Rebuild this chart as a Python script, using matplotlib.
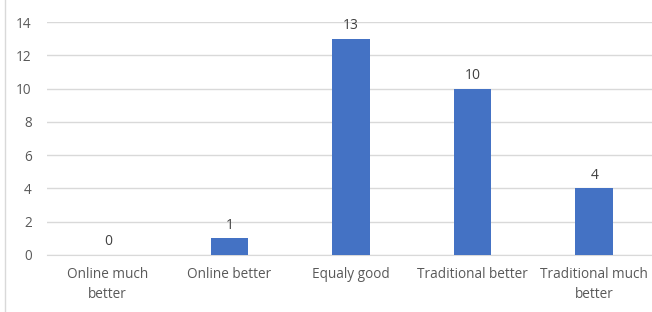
import matplotlib
matplotlib.use("Agg")
import matplotlib.pyplot as plt
from matplotlib.lines import Line2D

categories = ["Online much\nbetter", "Online better", "Equaly good", "Traditional better", "Traditional much\nbetter"]
values = [0, 1, 13, 10, 4]
yticks = [0, 2, 4, 6, 8, 10, 12, 14]

plt.rcParams['font.family'] = ['Open Sans', 'DejaVu Sans']

fig = plt.figure(figsize=(6.52, 3.12), dpi=100)
ax = fig.add_axes([47/652, 1 - 255/312, (655 - 47)/652, (255 - 22)/312])

x = list(range(len(categories)))
bars = ax.bar(x, values, width=0.31, color="#4472C4", zorder=3)
for xi, v in zip(x, values):
    ax.text(xi, v + 0.35, str(v), ha="center", va="bottom", fontsize=10, color="#404040")

ax.set_xlim(-0.5, len(categories) - 0.5)
ax.set_ylim(0, 14)
ax.set_yticks(yticks)
ax.set_xticks(x)
ax.set_xticklabels(categories, fontsize=9.8, color="#595959", linespacing=1.45)
ax.tick_params(axis="y", labelsize=9.8, labelcolor="#595959", length=0, pad=11)
ax.tick_params(axis="x", length=0, pad=9)
ax.yaxis.grid(True, color="#D9D9D9", linewidth=1, zorder=0)
for s in ["top", "right", "left"]:
    ax.spines[s].set_visible(False)
ax.spines["bottom"].set_color("#D9D9D9")

fig.add_artist(Line2D([4.5/652, 4.5/652], [0, 1], transform=fig.transFigure, color="#D9D9D9", linewidth=1))

fig.savefig("out.png", dpi=100)
